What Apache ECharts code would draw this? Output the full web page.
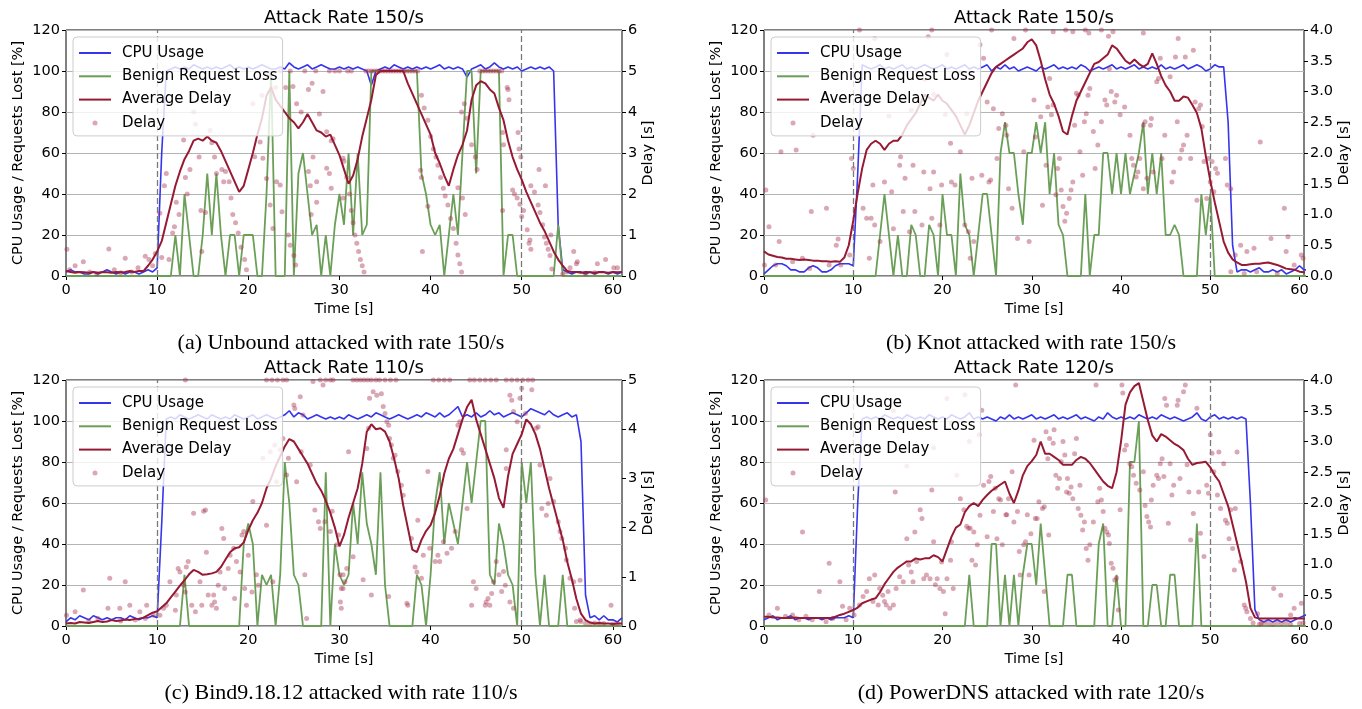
<!DOCTYPE html>
<html><head><meta charset="utf-8">
<script src="https://cdn.jsdelivr.net/npm/echarts@6/dist/echarts.min.js"></script>
<style>html,body{margin:0;padding:0;background:#fff}#c{width:1362px;height:709px}</style>
</head><body><div id="c"></div>
<script>
// ---- sample grid: one reading every 0.5 s from 0 to 61 s ----
const SAMPLE_STEP = 0.5;
const SAMPLE_COUNT = 123;
const xTickValues = [0, 10, 20, 30, 40, 50, 60];
const leftTicks = {min: 0, max: 120, interval: 20};

const titles = ['Attack Rate 150/s', 'Attack Rate 150/s', 'Attack Rate 110/s', 'Attack Rate 120/s'];
const captions = ['(a) Unbound attacked with rate 150/s', '(b) Knot attacked with rate 150/s',
                  '(c) Bind9.18.12 attacked with rate 110/s', '(d) PowerDNS attacked with rate 120/s'];
const seriesNames = ['CPU Usage', 'Benign Request Loss', 'Average Delay', 'Delay'];
const attackWindow = [10, 50];

// ---------------- (a) Unbound ----------------
const cpuA = [
2,3,2,2,1,1,2,1,2,3,
2,1,2,1,2,2,1,2,3,2,
4,60,100,101,102,101,102,101,103,102,
101,102,101,102,101,102,103,101,102,101,
102,101,102,103,102,101,101,102,101,104,
102,101,102,103,101,102,103,102,101,101,
102,101,102,101,102,101,100,93,100,101,
102,101,103,102,101,102,101,102,101,102,
101,102,103,101,102,101,102,101,97,101,
102,103,101,102,104,102,101,102,101,102,
100,101,102,101,102,101,102,100,25,3,
2,1,2,2,1,2,1,2,2,1,
2,1,2];
const lossA = [
0,0,0,0,0,0,0,0,0,0,
0,0,0,0,0,0,0,0,0,0,
0,0,0,0,20,0,40,20,0,0,
20,50,20,50,20,0,20,20,0,20,
20,20,0,0,40,100,0,0,0,100,
0,50,60,40,20,25,0,20,0,25,
40,25,60,20,60,20,25,100,100,100,
100,100,100,100,100,100,100,100,50,40,
25,20,25,0,20,40,20,60,100,100,
50,100,100,100,100,100,0,20,20,0,
0,0,0,0,0,0,0,0,25,0,
0,0,0,0,0,0,0,0,0,0,
0,0,0];
const avgA = [
0.12,0.1,0.08,0.1,0.09,0.08,0.1,0.08,0.1,0.09,
0.08,0.1,0.09,0.1,0.12,0.1,0.12,0.12,0.25,0.4,
0.6,0.85,1.3,1.75,2.2,2.55,2.85,3.05,3.3,3.35,
3.3,3.4,3.3,3.25,3.05,2.8,2.55,2.3,2.05,2.2,
2.6,3.0,3.45,3.85,4.4,4.6,4.3,4.15,4.0,3.85,
3.75,3.6,3.75,3.95,3.75,3.55,3.5,3.4,3.45,3.2,
2.95,2.6,2.25,2.45,2.85,3.4,3.85,4.3,4.9,5.0,
5.0,5.0,5.0,5.0,5.0,4.7,4.45,4.2,3.95,3.7,
3.45,3.0,2.75,2.45,2.2,2.6,2.95,3.2,3.55,4.3,
4.65,4.75,4.7,4.55,4.45,4.1,3.8,3.3,2.9,2.6,
2.35,2.05,1.8,1.55,1.3,1.1,0.85,0.6,0.4,0.25,
0.12,0.1,0.1,0.08,0.1,0.09,0.08,0.1,0.09,0.08,
0.1,0.09,0.1];
const delayA = [
[0.1,0.65],[0.4,0.15],[1.0,0.25],[1.9,0.35],[2.6,0.1],[3.4,0.05],[4.7,0.66],[5.3,0.15],[6.0,0.08],[6.5,0.43],[7.2,0.1],[7.9,0.2],[8.7,0.48],[9.1,0.4],[9.5,0.25],[9.8,0.55],
[10.3,1.53],[10.5,0.45],[10.8,2.2],[11.0,2.5],[11.3,0.4],[11.7,1.05],[11.9,1.2],[12.1,1.8],[12.4,1.5],[12.9,3.32],[13.1,2.4],[13.3,2.0],[13.6,2.6],[14.0,4.0],[14.2,3.7],[14.6,2.9],[14.8,1.6],[14.9,0.6],[15.3,1.55],[15.8,3.55],[16.0,3.25],[16.3,2.9],[16.5,2.5],[17.1,2.6],[17.3,2.3],[17.5,2.55],[17.9,2.3],[18.1,1.9],[18.3,1.5],[18.6,1.3],[18.9,1.05],[19.2,0.7],[19.6,0.4],[19.8,0.15],
[20.7,2.91],[21.3,3.27],[21.6,2.87],[22.0,2.38],[22.4,1.73],[22.7,1.16],[23.1,2.3],[23.5,2.22],[23.7,1.57],
[20.5,4.2],[21.5,4.4],[22.3,4.9],[23.0,4.6],[23.5,5.0],[24.1,4.6],[24.6,5.0],[24.9,4.62],[25.3,4.2],[25.8,4.0],[26.2,5.0],[26.6,4.55],[27.0,4.7],[27.4,5.0],[27.8,3.95],[28.2,4.5],[28.6,3.52],[28.9,5.0],[29.1,3.3],[29.5,5.0],[30.0,5.0],[30.4,2.87],[30.9,5.0],[31.3,5.0],
[24.4,1.0],[24.6,0.75],[25.0,0.5],[25.2,0.27],[26.6,2.55],[27.1,2.9],[26.8,2.2],[27.5,2.3],[27.5,1.8],[26.9,1.5],[28.6,2.63],[28.9,2.5],[29.1,2.14],[29.3,3.35],[30.4,1.9],
[30.5,2.8],[30.8,2.4],[31.1,2.0],[31.3,1.6],[31.5,1.3],[31.7,1.0],[31.9,0.8],[32.1,0.6],[32.3,0.4],[32.5,0.25],[32.7,0.1],
[32.9,5],[33.2,5],[33.5,5],[33.8,5],[34.1,5],[34.4,5],[34.7,5],[35.0,5],[35.3,5],[35.6,5],[35.9,5],[36.2,5],[36.5,5],[36.8,5],[37.1,5],[37.4,5],[37.7,5],[38.0,5],[38.3,5],[38.6,5],
[38.9,2.58],[39.0,4.41],[39.0,2.4],[39.1,0.6],[39.3,4.1],[39.7,3.8],[39.7,1.7],[40.0,3.4],[40.3,3.1],[40.6,2.9],[40.8,2.7],[41.1,2.4],[41.4,2.14],[41.6,1.95],[41.9,1.73],[42.2,1.4],[42.5,1.16],[42.8,0.8],[43.0,0.51],[43.2,0.3],[43.4,0.1],[43.0,2.15],[43.4,4.0],[43.7,4.2],[44.0,3.85],[44.5,3.2],[44.9,2.9],[45.1,2.6],[43.8,1.5],[43.5,1.9],
[45.4,5],[45.7,5],[46.0,5],[46.3,5],[46.6,5],[46.9,5],[47.2,5],[47.5,5],[47.8,5],
[47.9,3.5],[48.0,3.2],[47.9,1.6],[48.4,4.6],[48.5,4.55],[48.6,4.3],[49.6,3.5],[49.7,3.1],[49.9,2.9],[49.0,2.1],[49.2,2.0],[49.5,1.9],[49.8,1.75],[50.2,1.6],[50.0,1.45],[50.6,1.13],[50.8,0.8],[51.0,0.65],[51.0,2.2],[51.4,2.05],[51.8,1.73],[52.0,1.55],[52.3,1.25],[52.5,0.95],[52.7,0.8],[52.9,0.65],[53.1,0.5],[53.3,0.17],[51.9,2.6],[52.6,2.2],[53.2,1.0],[50.9,0.88],[55.7,0.6],[56.1,0.35],[56.0,0.3],[58.3,0.3],[59.2,0.4],[60.1,0.2],[60.5,0.2],[55.3,0.2],[54.9,0.1],[54.5,0.05],[57.0,0.05],[58.0,0.08]
];

// ---------------- (b) Knot ----------------
const cpuB = [
1,3,5,6,6,5,3,3,2,2,
4,5,4,2,2,3,5,6,6,6,
5,50,103,102,101,102,103,101,102,101,
102,103,101,102,101,102,103,102,101,102,
103,101,102,101,102,103,101,102,101,102,
103,100,102,101,103,101,102,100,101,102,
101,100,102,101,102,103,101,102,101,102,
101,103,102,100,101,102,101,102,103,101,
102,101,102,103,101,102,101,102,101,103,
101,102,101,102,103,101,102,103,102,100,
101,103,102,102,75,15,2,3,3,2,
3,4,2,2,3,2,3,1,2,3,
5,3,3];
const lossB = [
0,0,0,0,0,0,0,0,0,0,
0,0,0,0,0,0,0,0,0,0,
0,0,0,0,0,0,20,40,20,0,
20,0,0,25,20,0,0,25,20,0,
40,20,20,0,50,25,20,0,20,40,
40,20,0,60,75,60,60,40,25,60,
60,75,60,75,40,60,25,20,0,0,
0,0,40,0,20,20,60,60,40,60,
40,60,40,50,60,75,40,60,40,60,
20,20,25,20,0,0,0,0,40,20,
40,0,0,0,0,0,0,0,0,0,
0,0,0,0,0,0,0,0,0,0,
0,0,0];
const avgB = [
0.4,0.35,0.33,0.31,0.3,0.28,0.28,0.27,0.26,0.27,
0.26,0.25,0.25,0.24,0.24,0.23,0.24,0.23,0.3,0.5,
0.9,1.35,1.75,2.05,2.15,2.2,2.15,2.05,2.15,2.2,
2.2,2.3,2.45,2.55,2.65,2.8,2.95,2.9,2.85,2.95,
2.85,2.8,2.7,2.6,2.45,2.3,2.45,2.65,2.85,3.0,
3.15,3.3,3.4,3.45,3.5,3.55,3.6,3.65,3.7,3.8,
3.85,3.75,3.5,3.2,2.95,2.8,2.6,2.35,2.3,2.6,
2.85,3.0,3.15,3.3,3.45,3.48,3.54,3.6,3.75,3.7,
3.6,3.5,3.45,3.52,3.45,3.4,3.45,3.62,3.45,3.25,
3.1,3.0,2.85,2.85,2.92,2.9,2.78,2.65,2.4,1.95,
1.55,1.2,0.88,0.56,0.38,0.27,0.22,0.18,0.18,0.19,
0.2,0.2,0.21,0.22,0.2,0.18,0.15,0.12,0.11,0.1,
0.07,0.06,0.05];
const delayB = [
[0.2,1.4],[0.56,0.8],[0.05,0.18],[1.7,0.56],[1.9,2.02],[3.6,2.05],[5.3,1.05],[5.5,2.29],[7.0,1.1],[8.1,0.5],[8.3,0.6],[8.6,0.18],[5.1,0.12],[3.2,0.23],[1.3,0.18],[4.3,0.29],[7.3,0.18],[9.8,1.91],[10.0,1.75],[9.6,0.34],
[11.1,1.1],[11.5,0.94],[12.0,0.94],[12.4,0.83],[11.8,0.29],[13.0,0.56],[12.4,3.86],[12.2,1.48],[13.5,1.53],[14.3,1.37],[14.5,0.77],[15.2,1.8],[15.3,1.94],[15.6,1.05],[15.8,1.59],[16.3,0.72],[16.7,1.8],[16.9,1.05],[17.7,0.83],[17.9,1.69],[18.4,3.89],[18.6,1.42],[18.8,0.94],[19.0,1.69],[19.7,0.83],[19.9,1.48],[20.3,2.62],[20.9,2.16],[21.0,1.53],[21.4,1.48],[22.0,2.02],[22.5,0.83],[22.7,2.64],[22.9,0.72],[23.1,0.29],[23.3,1.59],[23.5,0.56],[24.2,3.76],[24.4,1.64],[24.6,3.54],[25.0,2.83],[25.2,1.53],[25.4,1.56],[25.7,2.72],[26.1,1.91],[26.3,2.4],[26.7,2.64],[27.1,2.45],[27.2,2.29],[28.0,3.86],[27.4,1.42],[27.8,1.1],[28.4,0.61],[29.1,2.02],[29.7,0.56],[30.25,2.86],[30.4,2.26],[31.0,2.59],[31.2,1.15],[31.6,1.8],[31.8,2.75],
[16.5,2.7],[19.0,2.95],[20.5,3.6],[22.0,3.3],[18.0,3.2],[14.0,2.6],
[10.7,4.0],[18.8,4.0],[25.5,4.0],[29.3,4.0],[33.8,4.0],[36.0,4.0],[37.8,4.0],[32.4,3.97],[34.6,3.97],[36.4,3.95],[38.6,3.9],[42.5,3.95],
[32.0,3.21],[32.4,2.78],[32.2,2.62],[32.9,1.75],[32.7,1.32],[33.1,1.91],[33.3,1.4],[33.5,1.13],[33.7,0.89],[33.9,1.02],[34.4,1.4],[34.6,1.53],[34.2,1.26],[34.8,2.45],[35.0,2.97],[35.2,2.94],[35.4,2.02],[35.7,1.64],[35.9,2.51],[36.1,2.64],[36.3,2.94],[36.5,3.05],[36.9,2.35],[37.1,1.75],[37.4,2.13],[37.8,2.51],[38.2,2.86],[38.4,2.78],[38.7,3.37],[38.9,3.0],[39.1,3.97],[39.3,2.83],[39.5,2.94],[39.9,2.62],[40.4,2.75],[41.0,2.29],[41.2,1.91],[41.4,1.8],[41.7,1.61],[41.9,1.69],[42.1,1.91],[42.5,2.45],[42.7,2.51],[42.5,1.42],[42.9,1.59],[43.3,2.45],[43.4,2.56],[43.6,1.69],[44.0,3.16],[44.2,3.21],[44.4,3.54],[44.6,1.91],[44.9,2.29],[45.5,3.24],[45.7,1.53],[45.9,1.69],[46.1,3.56],[46.3,2.51],[46.4,3.86],[46.6,1.91],[46.8,2.05],[47.0,2.13],[47.2,3.56],[47.4,2.29],[47.8,1.91],[48.1,3.67],[48.3,2.83],[48.5,1.23],[48.7,2.72],[48.9,2.78],[49.1,2.43],[49.3,1.86],[49.6,1.26],[49.8,1.91],[50.0,1.53],[50.2,1.86],[50.4,1.37],[50.6,1.75],[50.8,1.67],[51.7,1.91],[51.9,1.48],[52.3,1.42],[52.8,0.34],[53.4,0.5],[54.1,0.4],[54.9,0.45],[55.6,2.18],[56.8,0.61],[58.3,1.1],[58.7,0.64],[58.5,0.4],[59.4,0.18],[60.2,0.34],[60.4,0.29],[52.3,0.07],[53.8,0.04],[55.2,0.07],[57.5,0.04]
];

// ---------------- (c) Bind9.18.12 ----------------
const cpuC = [
2,4,3,5,4,3,5,4,3,4,
3,4,4,3,5,4,3,4,4,5,
4,50,101,102,101,103,102,101,102,103,
102,101,103,102,101,102,101,103,102,101,
102,103,101,102,103,102,101,102,103,105,
102,104,103,101,102,103,102,101,102,101,
102,101,103,102,101,102,103,102,104,103,
102,101,102,103,102,101,102,103,102,104,
103,102,104,102,103,105,107,102,103,102,
104,102,103,105,103,104,102,103,104,103,
102,104,106,105,104,103,105,103,102,103,
104,102,103,90,15,4,5,3,5,3,
3,2,4];
const lossC = [
0,0,0,0,0,0,0,0,0,0,
0,0,0,0,0,0,0,0,0,0,
0,0,0,0,0,0,25,0,0,0,
0,0,0,0,0,0,0,0,0,40,
50,40,0,25,20,25,0,25,80,60,
25,20,0,0,0,0,0,75,0,40,
25,20,25,60,40,75,50,40,25,75,
20,0,0,0,0,0,0,25,20,0,
25,60,75,40,60,50,40,60,80,60,
80,100,100,25,20,50,40,25,20,0,
80,60,80,25,0,25,0,0,0,25,
0,0,0,0,0,0,0,0,0,0,
0,0,0];
const avgC = [
0.05,0.06,0.05,0.08,0.07,0.06,0.08,0.1,0.08,0.09,
0.12,0.1,0.11,0.13,0.12,0.14,0.15,0.17,0.22,0.27,
0.3,0.38,0.46,0.58,0.7,0.82,0.93,1.05,1.14,1.1,
1.04,1.05,1.07,1.1,1.2,1.35,1.5,1.58,1.6,1.7,
1.95,2.15,2.3,2.5,2.8,3.0,3.25,3.45,3.65,3.8,
3.75,3.6,3.45,3.3,3.1,2.9,2.75,2.55,2.3,2.0,
1.62,1.85,2.2,2.5,2.8,3.3,3.95,4.1,4.0,4.02,
3.95,3.75,3.4,3.0,2.45,2.0,1.55,1.5,1.75,1.93,
2.05,2.3,2.65,3.1,3.4,3.6,3.9,4.2,4.45,4.6,
4.2,3.9,3.6,3.3,3.0,2.6,2.4,3.05,3.5,3.7,
3.9,4.2,4.1,3.9,3.6,3.2,2.8,2.45,2.1,1.75,
1.3,0.95,0.55,0.25,0.12,0.07,0.05,0.06,0.05,0.05,
0.04,0.05,0.05];
const delayC = [
[0.05,0.22],[1.0,0.29],[1.9,0.73],[4.8,0.97],[4.6,0.36],[6.5,0.9],[5.9,0.36],[7.0,0.42],[8.1,0.29],[8.7,0.15],[8.85,0.42],[9.6,0.22],[2.5,0.1],[3.5,0.15],[6.0,0.1],[7.6,0.12],
[10.3,0.22],[10.7,0.36],[11.0,0.42],[11.4,0.9],[12.0,0.32],[12.1,0.63],[12.3,1.17],[12.5,1.1],[12.9,0.83],[13.1,0.69],[13.2,1.2],[13.4,1.31],[13.8,0.42],[14.0,2.29],[14.2,0.29],[14.7,0.9],[14.9,0.42],[15.1,2.33],[15.3,2.36],[15.4,1.5],[15.6,0.63],[16.0,0.42],[16.2,0.63],[16.3,0.49],[16.5,0.36],[16.7,0.83],[16.9,1.1],[17.1,1.98],[17.3,1.78],[17.4,0.76],[17.8,1.17],[18.0,1.44],[18.4,1.58],[18.5,0.56],[18.7,1.31],[19.1,1.1],[19.3,1.85],[19.5,1.92],[19.6,0.76],[19.8,0.42],[20.0,1.44],[20.4,0.69],[20.5,2.53],[20.9,1.04],[21.1,0.83],
[21.6,3.41],[22.0,2.05],[22.4,3.54],[22.7,0.9],[22.9,3.68],[23.1,2.93],[23.5,3.58],[23.8,3.81],[24.2,3.07],[24.4,3.41],[25.0,4.49],[25.1,4.42],[25.3,2.93],[25.7,4.66],[25.8,3.54],[26.0,4.29],[26.2,1.04],[26.4,0.15],[26.8,3.27],[27.1,4.97],[27.3,2.36],[27.7,2.12],[27.9,1.98],[28.2,4.9],[28.4,2.12],[29.0,1.92],[29.2,2.33],[29.7,1.65],[29.9,1.85],[30.1,0.49],[30.2,0.76],[30.4,1.04],[30.6,0.9],[31.0,3.54],[30.8,1.17],
[13.1,5],[22.0,5],[22.6,5],[23.2,5],[23.8,5],[24.2,5],[27.9,5],[28.5,5],[29.0,5],[29.3,5],
[31.5,5],[31.9,5],[32.3,5],[32.7,5],[33.1,5],[33.5,5],[34.0,5],[34.4,5],[35.0,5],[35.6,5],[36.2,5],[40.3,5],[40.9,5],[41.5,5],[42.1,5],[44.3,5],[44.8,5],[45.4,5],[46.0,5],[46.6,5],[47.2,5],[48.3,5],[48.9,5],[49.5,5],[50.1,5],[50.7,5],[51.2,5],
[33.7,4.76],[34.1,4.69],[34.6,4.72],[34.8,4.46],[35.0,4.32],[35.2,4.15],[35.4,4.08],[35.5,3.81],[35.7,3.68],[35.9,3.41],[36.1,3.47],[36.4,3.14],[36.8,2.86],[37.0,2.66],[33.3,4.63],[33.2,4.02],[33.0,3.61],
[30.05,1.04],[30.4,0.76],[30.2,0.36],[31.5,1.41],[32.6,0.94],[33.5,0.63],[35.4,0.6],[37.4,0.46],[37.5,0.42],[37.9,1.78],[38.3,1.2],[38.5,1.1],[38.6,2.15],[39.0,0.97],[39.2,1.44],[39.7,3.14],[39.9,1.58],[40.5,1.31],[40.8,1.44],[41.0,1.31],[41.4,1.71],[41.8,1.48],[42.3,1.58],[42.7,1.92],[43.0,4.08],[43.2,4.15],[43.4,3.58],[43.6,3.51],[44.0,2.39],[44.5,0.42],[44.7,0.9],[45.0,0.76],[46.0,0.42],[46.1,0.49],[46.3,0.56],[46.5,0.42],[46.7,0.66],[46.9,0.9],[47.2,1.31],[47.5,1.04],[47.8,0.7],[48.0,1.11],[48.2,0.83],[48.7,0.49],[49.1,0.36],
[48.3,3.2],[48.3,3.58],[48.7,4.69],[48.9,4.59],[49.1,4.36],[49.5,4.15],[49.8,4.63],[50.0,4.83],[50.4,4.32],[51.1,4.8],[51.6,4.02],[51.8,4.05],[52.0,3.27],[52.2,2.39],[52.7,2.25],[52.9,2.49],[53.1,3.0],[53.5,2.53],[54.0,2.12],[54.2,1.92],[54.4,1.78],[54.8,1.58],[54.9,1.34],[55.3,0.97],[55.7,0.9],[55.8,0.36],[56.0,0.09],[56.4,0.12],[56.5,0.09],[59.8,0.42],[56.4,0.93],
[57.0,0.05],[57.5,0.04],[58.0,0.06],[58.5,0.05],[59.0,0.05],[60.0,0.04],[60.5,0.05]
];

// ---------------- (d) PowerDNS ----------------
const cpuD = [
3,4,5,3,4,4,5,3,4,4,
3,4,4,3,4,3,4,4,4,5,
4,60,101,102,101,102,101,103,102,101,
102,101,103,102,101,102,101,103,102,101,
102,101,103,102,101,102,104,101,102,101,
102,101,100,102,101,103,101,102,101,102,
103,101,102,101,102,103,101,102,101,102,
103,101,102,101,100,102,101,104,102,101,
102,101,102,101,103,102,101,102,101,103,
102,101,102,101,100,101,102,104,101,100,
102,103,101,102,101,102,101,102,101,60,
8,3,2,3,2,3,2,3,2,3,
4,5,6];
const lossD = [
0,0,0,0,0,0,0,0,0,0,
0,0,0,0,0,0,0,0,0,0,
0,0,0,0,0,0,0,0,0,0,
0,0,0,0,0,0,0,0,0,0,
0,0,0,0,0,0,25,0,0,0,
0,40,40,0,25,0,25,0,25,40,
40,20,50,25,0,0,0,0,25,25,
0,0,0,0,0,40,50,0,0,25,
0,0,80,80,100,0,0,20,20,0,
0,25,25,0,0,0,0,50,0,0,
0,0,0,0,0,0,0,0,0,0,
0,0,0,0,0,0,0,0,0,0,
0,0,0];
const avgD = [
0.15,0.15,0.14,0.14,0.13,0.13,0.13,0.14,0.13,0.13,
0.13,0.13,0.13,0.13,0.13,0.13,0.15,0.18,0.2,0.23,
0.26,0.3,0.37,0.4,0.43,0.45,0.55,0.68,0.78,0.88,
0.95,1.0,1.05,1.05,1.1,1.08,1.1,1.1,1.15,1.12,
1.05,1.25,1.45,1.6,1.65,1.85,1.95,2.0,1.95,2.05,
2.13,2.2,2.25,2.3,2.35,2.15,2.0,2.2,2.45,2.6,
2.68,2.78,3.0,2.8,2.8,2.75,2.7,2.62,2.62,2.62,
2.7,2.75,2.72,2.65,2.55,2.45,2.35,2.28,2.24,2.5,
3.0,3.6,3.8,3.9,3.95,3.65,3.35,3.1,3.0,3.12,
3.08,3.02,2.96,2.92,2.86,2.72,2.62,2.65,2.66,2.67,
2.58,2.45,2.35,2.15,1.95,1.65,1.35,1.05,0.72,0.29,
0.14,0.12,0.12,0.12,0.12,0.12,0.12,0.12,0.12,0.13,
0.12,0.12,0.12];
const delayD = [
[0.19,2.05],[1.5,0.29],[4.32,1.53],[6.2,0.56],[7.3,1.02],[8.5,0.72],[8.8,0.32],[9.6,0.29],[10.1,0.18],[0.56,0.18],[2.4,0.16],[3.2,0.18],[3.9,0.1],[4.7,0.16],[5.4,0.1],[6.95,0.07],[7.7,0.12],[9.2,0.1],
[10.7,0.34],[11.1,0.48],[11.5,0.56],[11.8,0.77],[12.2,0.4],[12.4,0.83],[12.8,0.34],[12.96,0.61],[13.3,0.5],[13.5,0.4],[13.7,0.34],[13.9,0.56],[14.1,0.29],[14.5,0.34],[14.7,2.18],[14.8,0.61],[15.2,0.8],[15.6,0.72],[16.0,1.42],[16.2,0.99],[16.5,0.88],[16.7,0.72],[16.9,1.53],[17.1,1.05],[17.5,1.89],[17.7,1.75],[17.9,0.77],[18.2,0.83],[18.6,0.77],[18.8,2.21],[19.0,1.37],[19.2,0.67],[19.4,0.77],[19.7,0.61],[19.9,1.04],[20.1,0.56],[20.3,0.2],[20.5,0.77],[20.9,1.07],[21.0,1.37],[21.2,0.61],[21.6,2.45],[22.0,2.07],[22.4,1.89],[22.5,3.76],[22.7,1.62],[22.9,1.59],[23.1,1.59],[23.3,1.07],[23.5,1.53],[23.7,0.99],[23.9,1.32],[24.1,3.11],[24.2,1.8],[24.4,3.51],[24.6,2.29],[25.0,1.45],[25.2,2.35],[25.4,2.43],[25.7,1.86],[25.9,2.24],[26.1,1.42],[26.3,2.07],[26.5,2.05],[26.7,1.32],[27.1,1.81],[27.2,1.81],[27.4,2.07],[27.8,2.51],[28.0,1.69],[28.2,3.92],[28.4,1.86],[28.6,1.21],[28.7,0.83],[29.1,1.32],[29.3,1.37],[29.5,1.81],[29.7,0.83],[29.9,1.5],[30.25,3.02],[30.4,1.75],[30.6,1.75],[30.8,2.02],[31.2,1.91],[31.4,0.56],[31.6,3.16],[31.8,2.72],[31.9,1.48],
[16.0,2.6],[19.0,2.9],[21.0,3.3],[23.0,3.0],[14.5,3.5],[20.5,3.7],
[31.4,1.94],[32.0,3.05],[32.5,3.19],[32.4,2.97],[32.7,2.45],[32.9,2.24],[33.1,2.4],[33.3,2.67],[33.5,3.0],[33.7,2.78],[33.9,2.18],[34.0,2.4],[34.2,2.16],[34.4,2.26],[34.6,2.07],[34.8,2.8],[35.0,3.05],[35.2,1.91],[35.4,2.29],[35.5,1.8],[35.7,1.56],[35.9,1.69],[36.1,1.26],[36.3,1.07],[36.5,1.32],[36.9,1.69],[37.2,3.92],[37.4,2.02],[37.6,2.24],[37.8,2.05],[38.0,1.86],[38.2,1.59],[38.4,1.53],[38.6,1.48],[38.7,1.34],[38.9,1.02],[39.1,0.94],[39.3,0.75],[39.5,0.78],[39.7,0.26],[39.9,1.89],[40.1,3.92],[40.2,3.79],[40.4,2.86],[40.6,2.94],[41.0,2.64],[41.2,2.59],[41.4,2.45],[41.7,2.32],[42.1,2.21],[42.5,2.51],[42.7,1.96],[42.9,1.78],[43.1,1.69],[43.3,1.61],[43.4,2.05],[43.6,2.29],[44.0,2.45],[44.2,2.4],[44.4,2.64],[44.6,2.72],[44.8,2.43],[44.9,3.7],[45.1,3.59],[45.3,1.67],[45.5,2.64],[45.7,2.13],[45.9,2.29],[46.3,3.59],[46.4,3.67],[46.6,2.4],[47.0,3.81],[47.2,3.92],[47.4,2.62],[47.6,2.18],[47.8,1.4],[48.1,1.83],[48.5,3.54],[48.7,2.18],[48.9,1.51],[49.3,1.13],[49.6,2.29],[49.8,2.16],[50.0,3.11],[50.2,2.81],[50.4,2.51],[50.8,2.13],[50.96,2.83],[51.15,1.91],[51.5,2.64],[51.7,1.72],[51.9,1.67],[52.1,1.42],[52.3,1.89],[52.5,1.26],[52.7,0.91],[52.8,1.91],[53.0,2.83],[53.4,1.05],[53.8,0.34],[53.97,0.29],[54.1,0.23],[54.5,0.12],[55.3,0.2],[55.7,0.04],[57.1,0.61],[57.9,0.5],[59.0,0.18],[59.4,0.29],[60.2,0.37],
[54.8,0.05],[55.5,0.03],[56.0,0.05],[56.5,0.04],[57.0,0.03],[57.5,0.05],[58.0,0.04],[58.5,0.05],[59.0,0.03],[60.0,0.04],[60.4,0.05]
];

// ---------------- panel description (data only) ----------------
const panels = [
  {cpu: cpuA, loss: lossA, avg: avgA, pts: delayA, delayMax: 6, delayInterval: 1, decimals: 0, timeMax: 61},
  {cpu: cpuB, loss: lossB, avg: avgB, pts: delayB, delayMax: 4, delayInterval: 0.5, decimals: 1, timeMax: 60.5},
  {cpu: cpuC, loss: lossC, avg: avgC, pts: delayC, delayMax: 5, delayInterval: 1, decimals: 0, timeMax: 61},
  {cpu: cpuD, loss: lossD, avg: avgD, pts: delayD, delayMax: 4, delayInterval: 0.5, decimals: 1, timeMax: 60.5}
];

// ---------------- layout & styling ----------------
const gridBoxes = [
  {left: 66, top: 30, width: 556, height: 246},
  {left: 764, top: 30, width: 540, height: 246},
  {left: 66, top: 380, width: 556, height: 246},
  {left: 764, top: 380, width: 540, height: 246}
];
const rightNameGap = [17, 33, 17, 33];
const COL = {cpu: '#3535ee', loss: '#6b9f58', avg: '#961a33', pts: 'rgba(165,45,75,0.52)'};
const FONT = 'DejaVu Sans';
const AX_FS = 14.5;

const sampleTimes = [];
for (let i = 0; i < SAMPLE_COUNT; i++) sampleTimes.push(i * SAMPLE_STEP);
const toPairs = vals => vals.map((v, i) => [sampleTimes[i], v]);

const option = {
  animation: false,
  backgroundColor: '#ffffff',
  textStyle: {fontFamily: FONT},
  grid: [], xAxis: [], yAxis: [], series: [], legend: [], graphic: []
};

const legendItems = seriesNames.map((n, i) => (i < 3 ? {name: n, itemStyle: {opacity: 0}} : {name: n}));

panels.forEach((p, k) => {
  const g = gridBoxes[k];
  option.grid.push({left: g.left, top: g.top, width: g.width, height: g.height,
    show: true, borderColor: '#000', borderWidth: 1, backgroundColor: 'transparent'});
  option.xAxis.push({
    type: 'value', gridIndex: k, min: 0, max: p.timeMax, interval: 10,
    name: 'Time [s]', nameLocation: 'middle', nameGap: 26,
    nameTextStyle: {fontSize: AX_FS, color: '#000', fontFamily: FONT},
    axisLine: {show: false},
    axisTick: {show: true, length: 4, lineStyle: {color: '#000'}, customValues: xTickValues},
    axisLabel: {fontSize: AX_FS, color: '#000', margin: 7, fontFamily: FONT, customValues: xTickValues,
      formatter: v => (v % 10 === 0 ? String(v) : '')},
    splitLine: {show: false}
  });
  option.yAxis.push({
    type: 'value', gridIndex: k, position: 'left', min: leftTicks.min, max: leftTicks.max, interval: leftTicks.interval,
    name: 'CPU Usage / Requests Lost [%]', nameLocation: 'middle', nameGap: 40, nameRotate: 90,
    nameTextStyle: {fontSize: AX_FS, color: '#000', fontFamily: FONT},
    axisLine: {show: false},
    axisTick: {show: true, length: 4, lineStyle: {color: '#000'}},
    axisLabel: {fontSize: AX_FS, color: '#000', margin: 6, fontFamily: FONT},
    splitLine: {show: true, lineStyle: {color: '#b4b4b4', width: 1}}
  });
  option.yAxis.push({
    type: 'value', gridIndex: k, position: 'right', min: 0, max: p.delayMax, interval: p.delayInterval,
    name: 'Delay [s]', nameLocation: 'middle', nameGap: rightNameGap[k], nameRotate: 90,
    nameTextStyle: {fontSize: AX_FS, color: '#000', fontFamily: FONT},
    axisLine: {show: false},
    axisTick: {show: true, length: 4, lineStyle: {color: '#000'}},
    axisLabel: {fontSize: AX_FS, color: '#000', margin: 6, fontFamily: FONT,
      formatter: v => v.toFixed(p.decimals)},
    splitLine: {show: false}
  });
  option.series.push({
    type: 'line', name: seriesNames[0], xAxisIndex: k, yAxisIndex: 2 * k, data: toPairs(p.cpu),
    symbol: 'none', lineStyle: {color: COL.cpu, width: 1.6}, itemStyle: {color: COL.cpu}, z: 2,
    markLine: {silent: true, symbol: ['none', 'none'], label: {show: false},
      lineStyle: {color: '#7a7a7a', type: [6, 3], width: 1.3},
      data: attackWindow.map(t => ({xAxis: t}))}
  });
  option.series.push({
    type: 'line', name: seriesNames[1], xAxisIndex: k, yAxisIndex: 2 * k, data: toPairs(p.loss),
    symbol: 'none', lineStyle: {color: COL.loss, width: 1.8}, itemStyle: {color: COL.loss}, z: 3
  });
  option.series.push({
    type: 'scatter', name: seriesNames[3], xAxisIndex: k, yAxisIndex: 2 * k + 1, data: p.pts,
    symbolSize: 5, itemStyle: {color: COL.pts}, z: 4
  });
  option.series.push({
    type: 'line', name: seriesNames[2], xAxisIndex: k, yAxisIndex: 2 * k + 1, data: toPairs(p.avg),
    symbol: 'none', lineStyle: {color: COL.avg, width: 2}, itemStyle: {color: COL.avg}, z: 5
  });
  option.legend.push({
    orient: 'vertical', left: g.left + 7, top: g.top + 7, data: legendItems,
    itemWidth: 32, itemHeight: 5, itemGap: 8.3, padding: [8.5, 5, 5.5, 5],
    backgroundColor: 'rgba(255,255,255,0.8)', borderColor: '#cccccc', borderWidth: 1, borderRadius: 4,
    textStyle: {fontSize: 15, color: '#000', fontFamily: FONT, padding: [0, 0, 0, 6]},
    selectedMode: false, z: 10
  });
  option.graphic.push({
    type: 'text', x: g.left + g.width / 2, y: g.top - 12, z: 10,
    style: {text: titles[k], fontSize: 18, fontFamily: FONT, fill: '#000', align: 'center', verticalAlign: 'middle'}
  });
  option.graphic.push({
    type: 'text', x: g.left + g.width / 2 - 3, y: g.top + g.height + 67, z: 10,
    style: {text: captions[k], fontSize: 22, fontFamily: 'Liberation Serif', fill: '#000', align: 'center', verticalAlign: 'middle'}
  });
});

const chart = echarts.init(document.getElementById('c'), null, {renderer: 'canvas', width: 1362, height: 709});
chart.setOption(option);
</script>
</body></html>
